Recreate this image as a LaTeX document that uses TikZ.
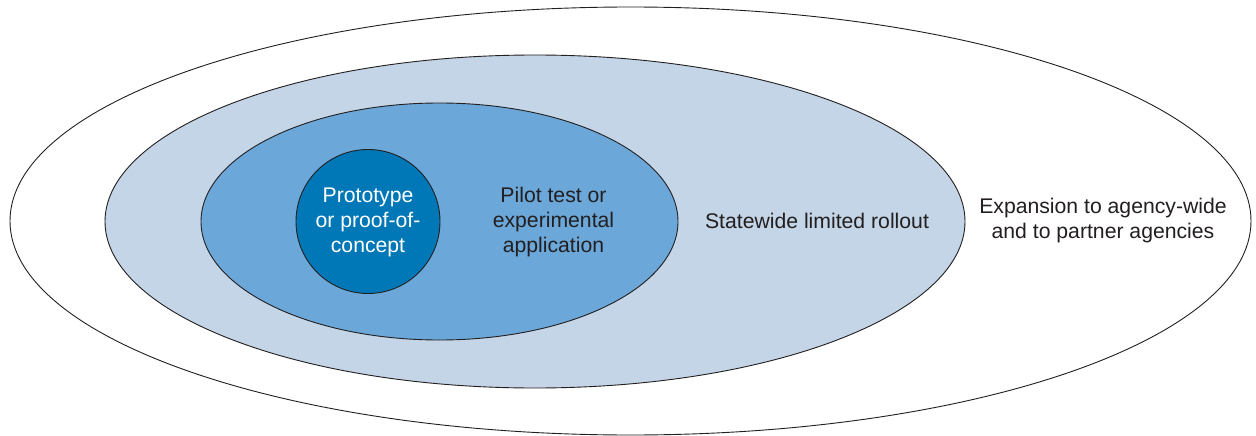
\documentclass[tikz,border=0pt]{standalone}
\usepackage{fontspec}
\setmainfont{Liberation Sans}
\usetikzlibrary{shapes.geometric}
\definecolor{lvlA}{HTML}{FFFFFF}
\definecolor{lvlB}{HTML}{C3D5E6}
\definecolor{lvlC}{HTML}{6BA8D9}
\definecolor{lvlD}{HTML}{0077B6}
\definecolor{txtdark}{HTML}{231F20}
\tikzset{
  ring/.style={ellipse, draw=txtdark, line width=0.9pt, inner sep=0pt},
  lbl/.style={align=center, font=\fontsize{21.2}{25}\selectfont, text=txtdark, inner sep=0pt},
}
\begin{document}
\begin{tikzpicture}[x=1pt,y=-1pt]
\useasboundingbox (0,0) rectangle (1256,436);
\node[ring, fill=lvlA, minimum width=1241pt, minimum height=428pt] (outer) at (630.5,221) {};
\node[ring, fill=lvlB, minimum width=860pt, minimum height=333pt] (state) at (535,221.5) {};
\node[ring, fill=lvlC, minimum width=477pt, minimum height=237pt] (pilot) at (439.5,221.5) {};
\node[ring, circle, fill=lvlD, minimum size=144pt] (proto) at (368,221.5) {};
\node[lbl, text=white] (tproto) at (368,222) {Prototype\\or proof-of-\\concept};
\node[lbl] (tpilot) at (553.5,222) {Pilot test or\\experimental\\application};
\node[lbl] (tstate) at (817,221) {Statewide limited rollout};
\node[lbl] (texp) at (1103,221) {Expansion to agency-wide\\and to partner agencies};
\end{tikzpicture}
\end{document}
